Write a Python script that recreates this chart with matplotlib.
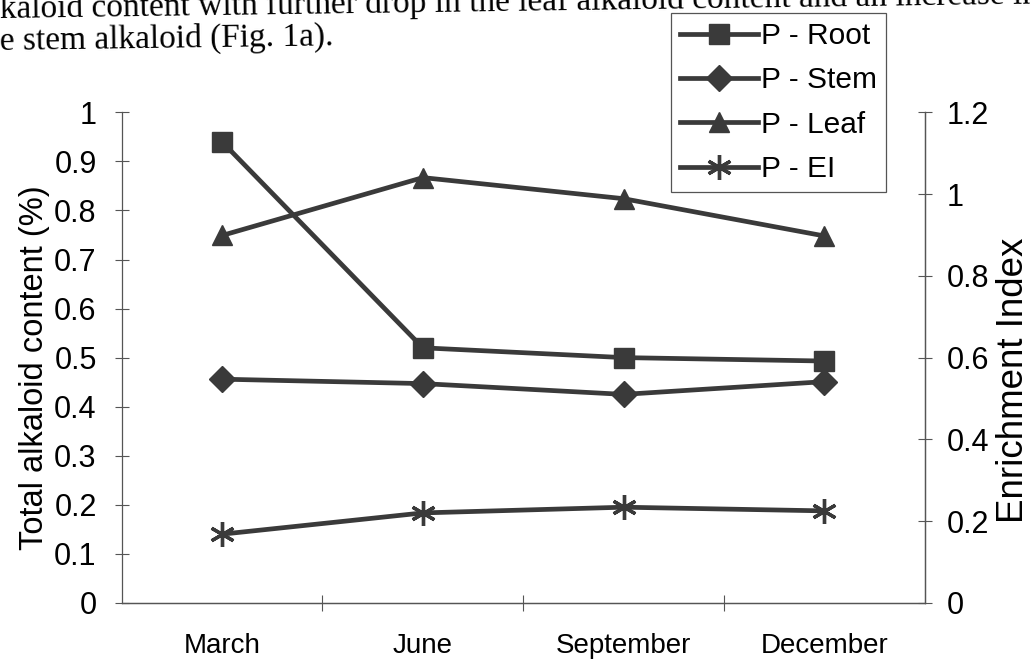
#Seasonal alkaloid content chart (root / stem / leaf + enrichment index)
import matplotlib
matplotlib.use("Agg")
import matplotlib.pyplot as plt
import numpy as np

plt.rcParams['font.family'] = ['Liberation Sans', 'DejaVu Sans']

months = ['March', 'June', 'September', 'December']
root = [0.94, 0.52, 0.50, 0.493]
stem = [0.456, 0.447, 0.425, 0.451]
leaf = [0.749, 0.867, 0.824, 0.748]
ei = [0.168, 0.22, 0.234, 0.225]   # right axis

left_ticks = [0, 0.1, 0.2, 0.3, 0.4, 0.5, 0.6, 0.7, 0.8, 0.9, 1]
right_ticks = [0, 0.2, 0.4, 0.6, 0.8, 1, 1.2]

body_line1 = "kaloid content with further drop in the leaf alkaloid content and an increase in"
body_line2 = "e stem alkaloid (Fig. 1a)."

col = '#3a3a3a'
axcol = '#555555'

fig = plt.figure(figsize=(10.31, 6.61), dpi=100)
ax = fig.add_axes([0.118, 0.088, 0.779, 0.742])
ax2 = ax.twinx()

x = np.arange(len(months))
l1, = ax.plot(x, root, '-s', color=col, lw=3.4, ms=14, mfc=col, mec=col)
l2, = ax.plot(x, stem, '-D', color=col, lw=3.4, ms=13, mfc=col, mec=col)
l3, = ax.plot(x, leaf, '-^', color=col, lw=3.4, ms=15, mfc=col, mec=col)
l4, = ax2.plot(x, ei, '-', color=col, lw=3.4, marker=(6, 2, 0), ms=18, mew=2.4, mec=col)

ax.set_xlim(-0.5, 3.5)
ax.set_ylim(0, 1)
ax2.set_ylim(0, 1.2)

ax.set_yticks(left_ticks)
ax.set_yticklabels([f'{t:g}' for t in left_ticks])
ax2.set_yticks(right_ticks)
ax2.set_yticklabels([f'{t:g}' for t in right_ticks])

# category labels sit between the tick marks
ax.set_xticks([0.5, 1.5, 2.5])
ax.set_xticklabels([])
ax.set_xticks(x, minor=True)
ax.set_xticklabels(months, minor=True)
ax.tick_params(axis='x', which='major', direction='inout', length=12, width=0.8, color=axcol)
ax.tick_params(axis='x', which='minor', length=0, pad=22, labelsize=20)
ax.tick_params(axis='y', direction='inout', length=10, width=0.8, color=axcol, labelsize=22, pad=13)
ax2.tick_params(axis='y', direction='inout', length=10, width=0.8, color=axcol, labelsize=22, pad=11)

for a in (ax, ax2):
    a.spines['top'].set_visible(False)
    for s in ('left', 'right', 'bottom'):
        a.spines[s].set_color(axcol)
        a.spines[s].set_linewidth(0.9)
ax2.spines['left'].set_visible(False)

ax.set_ylabel('Total alkaloid content (%)', fontsize=23.5, ha='center', va='center')
ax.yaxis.set_label_coords(-0.108, 0.48)
ax2.set_ylabel('Enrichment Index', fontsize=26.5, rotation=90, ha='center', va='center')
ax2.yaxis.set_label_coords(1.11, 0.453)

# scanned page text above the figure (slightly tilted like the scan)
fig.text(0.0, 1 - 18/661, body_line1, fontsize=24, family='Liberation Serif',
         ha='left', va='baseline', rotation=0.8, rotation_mode='anchor')
fig.text(0.0, 1 - 50/661, body_line2, fontsize=24, family='Liberation Serif',
         ha='left', va='baseline', rotation=0.8, rotation_mode='anchor')

leg = fig.legend([l1, l2, l3, l4], ['P - Root', 'P - Stem', 'P - Leaf', 'P - EI'],
                 loc='upper left', bbox_to_anchor=(671/1031, 1 - 13/661), fontsize=21.5,
                 numpoints=1, handlelength=2.6, handletextpad=0.1, labelspacing=0.55,
                 borderpad=0.3, borderaxespad=0, fancybox=False, framealpha=1,
                 edgecolor=axcol)
leg.get_frame().set_linewidth(0.9)
leg.set_zorder(10)

fig.savefig('out.png', dpi=100)
